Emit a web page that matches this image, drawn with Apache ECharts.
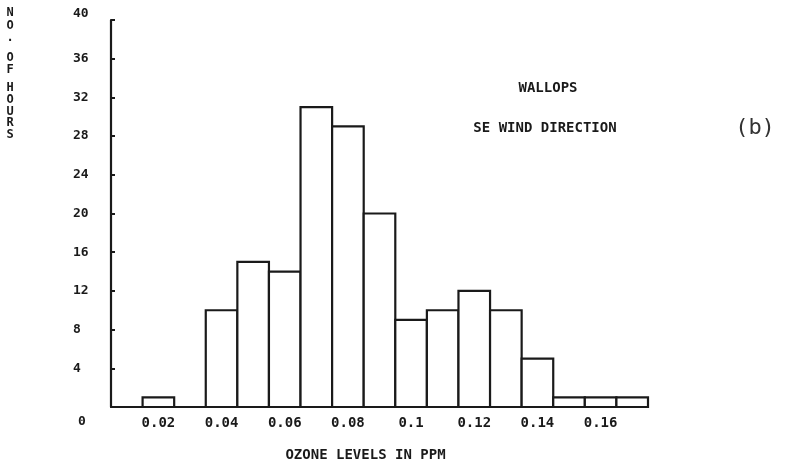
<!DOCTYPE html>
<html>
<head>
<meta charset="utf-8">
<script src="https://cdn.jsdelivr.net/npm/echarts@6/dist/echarts.min.js"></script>
<style>
  html, body { margin: 0; padding: 0; background: #fff; }
  #chart { width: 803px; height: 464px; }
</style>
</head>
<body>
<div id="chart"></div>
<script>
// Ozone level bins (ppm), one bar per 0.01 ppm bin
const bins = ['0.01', '0.02', '0.03', '0.04', '0.05', '0.06', '0.07', '0.08', '0.09',
              '0.1', '0.11', '0.12', '0.13', '0.14', '0.15', '0.16', '0.17'];
// Number of hours in each bin
const hours = [0, 1, 0, 10, 15, 14, 31, 29, 20, 9, 10, 12, 10, 5, 1, 1, 1];
// Bins that carry a tick label under the axis
const labelledBins = ['0.02', '0.04', '0.06', '0.08', '0.1', '0.12', '0.14', '0.16'];

const INK = '#1a1a1a';
const MONO = '"DejaVu Sans Mono", "Liberation Mono", monospace';

// Vertical y-axis title, one character per row, with small gaps between words
const yTitleChars = [
  ['N', 13], ['O', 26], ['.', 38], ['O', 58], ['F', 70],
  ['H', 88], ['O', 100], ['U', 112], ['R', 123], ['S', 135]
];

// Histogram bars: each one fills its whole category band so neighbours share an edge
function renderBin(params, api) {
  const idx = api.value(0);
  const val = api.value(1);
  if (!val) return null;
  const top = api.coord([idx, val]);
  const base = api.coord([idx, 0]);
  const w = api.size([1, 0])[0];
  return {
    type: 'rect',
    shape: { x: top[0] - w / 2, y: top[1], width: w, height: base[1] - top[1] },
    style: { fill: '#ffffff', stroke: INK, lineWidth: 2.2 }
  };
}

const chart = echarts.init(document.getElementById('chart'), null, { renderer: 'canvas' });

chart.setOption({
  backgroundColor: '#ffffff',
  animation: false,
  grid: { left: 111, right: 155, top: 20, bottom: 57, containLabel: false, outerBoundsMode: 'none' },
  xAxis: {
    type: 'category',
    data: bins,
    boundaryGap: true,
    axisLine: { show: true, lineStyle: { color: INK, width: 2.2 } },
    axisTick: { show: false },
    axisLabel: {
      interval: 0,
      formatter: (v) => labelledBins.includes(v) ? v : '',
      color: INK,
      fontFamily: MONO,
      fontWeight: 'bold',
      fontSize: 14,
      margin: 9
    },
    name: 'OZONE LEVELS IN PPM',
    nameLocation: 'middle',
    nameGap: 41,
    nameTextStyle: { color: INK, fontFamily: MONO, fontWeight: 'bold', fontSize: 14, padding: [0, 28, 0, 0] },
    splitLine: { show: false }
  },
  yAxis: {
    type: 'value',
    min: 0,
    max: 40,
    interval: 4,
    axisLine: { show: true, lineStyle: { color: INK, width: 2.2 } },
    axisTick: { show: true, inside: true, length: 4, lineStyle: { color: INK, width: 2 } },
    axisLabel: {
      color: INK,
      fontFamily: MONO,
      fontWeight: 'bold',
      fontSize: 13,
      align: 'left',
      margin: 38,
      formatter: (v) => v === 0 ? '{z|0}' : (v === 40 ? '{t|40}' : String(v)),
      rich: {
        z: { fontFamily: MONO, fontWeight: 'bold', fontSize: 13, color: INK, padding: [30, 0, 0, 5] },
        t: { fontFamily: MONO, fontWeight: 'bold', fontSize: 13, color: INK, padding: [0, 0, 12, 0] }
      }
    },
    splitLine: { show: false }
  },
  series: [{
    type: 'custom',
    renderItem: renderBin,
    data: hours.map((h, i) => [i, h]),
    encode: { x: 0, y: 1 },
    silent: true,
    z: 1
  }],
  graphic: yTitleChars.map(([ch, y]) => ({
    type: 'text',
    x: 10,
    y: y,
    style: {
      text: ch,
      fill: INK,
      font: 'bold 12px ' + MONO,
      align: 'center',
      verticalAlign: 'middle'
    }
  })).concat([
    {
      type: 'text',
      x: 548,
      y: 88,
      style: {
        text: 'WALLOPS',
        fill: INK,
        font: 'bold 14px ' + MONO,
        align: 'center',
        verticalAlign: 'middle'
      }
    },
    {
      type: 'text',
      x: 545,
      y: 128,
      style: {
        text: 'SE WIND DIRECTION',
        fill: INK,
        font: 'bold 14px ' + MONO,
        align: 'center',
        verticalAlign: 'middle'
      }
    },
    {
      type: 'text',
      x: 755,
      y: 128,
      style: {
        text: '(b)',
        fill: '#333',
        font: '22px ' + MONO,
        align: 'center',
        verticalAlign: 'middle'
      }
    }
  ])
});
</script>
</body>
</html>
